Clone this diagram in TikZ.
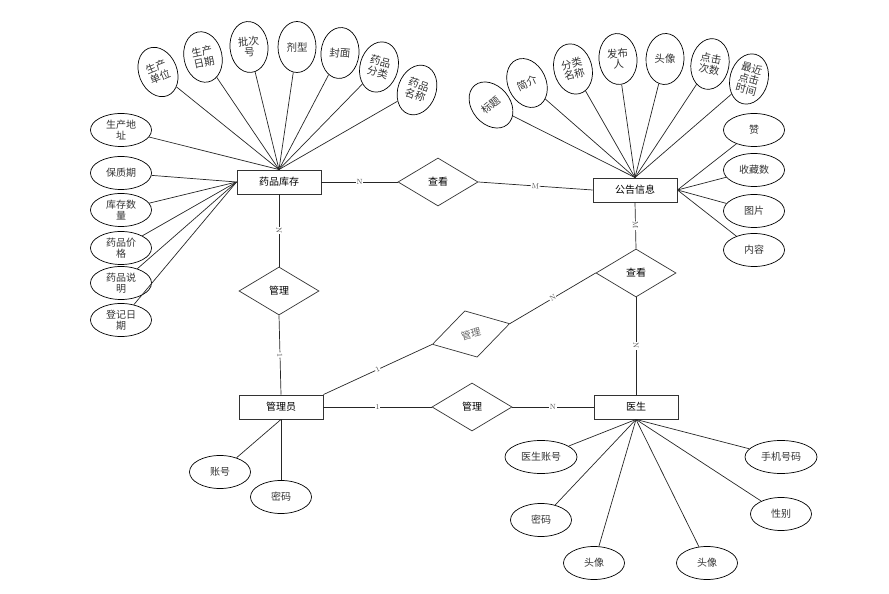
\documentclass[tikz,border=0pt]{standalone}
\usepackage{fontspec}
\newfontfamily\cjk{Noto Sans CJK SC}
\usetikzlibrary{shapes.geometric}

\begin{document}
\begin{tikzpicture}[x=1pt, y=1pt, font=\cjk\fontsize{10}{11}\selectfont,
  entity/.style={rectangle, draw=black!80, line width=0.9pt, minimum width=84pt, minimum height=24pt},
  relation/.style={diamond, draw=black!80, line width=0.7pt, aspect=1.7, minimum width=80pt, minimum height=48pt, inner sep=0pt},
  attr/.style={ellipse, draw, line width=0.7pt, minimum width=61pt, minimum height=33pt, inner sep=0pt, align=center, text=black!80},
  tall/.style={attr, minimum width=38pt, minimum height=51pt, font=\cjk\fontsize{10.5}{11}\selectfont},
  link/.style={draw=black!85, line width=0.7pt},
  card/.style={fill=white, inner sep=0.6pt, font=\rmfamily\fontsize{7.5}{7.5}\selectfont, text=black!70}]
  \useasboundingbox (0,0) rectangle (889,594);

  % entities and relations
  \node[entity] (stock) at (279,412) {药品库存};
  \node[entity] (notice) at (635,404) {公告信息};
  \node[entity] (admin) at (281,187) {管理员};
  \node[entity] (doctor) at (636,187) {医生};
  \node[relation] (view1) at (438,412) {查看};
  \node[relation] (manage1) at (279,303) {管理};
  \node[relation] (view2) at (636,321) {查看};
  \node[relation, rotate=15, text=black!60] (manage2) at (471,260) {管理};
  \node[relation] (manage3) at (472,187) {管理};

  \draw[link] (stock) -- node[card] {N} (view1);
  \draw[link] (view1.east) -- node[card, sloped] {M} (notice.west);
  \draw[link] (stock) -- node[card, sloped] {N} (manage1);
  \draw[link] (manage1.south) -- node[card, sloped] {1} (admin.north);
  \draw[link] (admin.north east) -- node[card, sloped] {1} (manage2.west);
  \draw[link] (manage2.east) -- node[card, sloped] {N} (view2.west);
  \draw[link] (notice.south) -- node[card, sloped] {M} (view2.north);
  \draw[link] (view2) -- node[card, sloped] {N} (doctor);
  \draw[link] (admin) -- node[card] {1} (manage3);
  \draw[link] (manage3) -- node[card] {N} (doctor);

  % 药品库存
  \node[tall, rotate=22] (maker) at (158,522) {生产\\单位};
  \node[tall, rotate=12] (proddate) at (203,537) {生产\\日期};
  \node[tall, rotate=5] (batch) at (249,547) {批次\\号};
  \node[tall] (form) at (297,547) {剂型};
  \node[tall, rotate=-5] (cover) at (340,541) {封面};
  \node[tall, rotate=-15] (category) at (379,527) {药品\\分类};
  \node[tall, rotate=-20] (drugname) at (417,504) {药品\\名称};
  \node[attr] (address) at (121,464) {生产地\\址};
  \node[attr] (shelf) at (121,421) {保质期};
  \node[attr] (quantity) at (121,384) {库存数\\量};
  \node[attr] (price) at (121,346) {药品价\\格};
  \node[attr] (desc) at (121,311) {药品说\\明};
  \node[attr] (regdate) at (121,274) {登记日\\期};
  \foreach \a in {maker, proddate, batch, form, cover, category, drugname, address}
    \draw[link] (\a) -- (stock.north);
  \foreach \a in {shelf, quantity, price, desc, regdate}
    \draw[link] (\a) -- (stock.west);

  % 公告信息
  \node[tall, rotate=40] (title) at (491,489) {标题};
  \node[tall, rotate=25] (intro) at (527,511) {简介};
  \node[tall, rotate=15] (catname) at (573,525) {分类\\名称};
  \node[tall, rotate=5] (publisher) at (618,535) {发布\\人};
  \node[tall, rotate=-3] (avatar) at (665,535) {头像};
  \node[tall, rotate=-10] (clicks) at (710,530) {点击\\次数};
  \node[tall, rotate=-15] (lastclick) at (749,515) {最近\\点击\\时间};
  \node[attr] (likes) at (754,464) {赞};
  \node[attr] (favs) at (754,424) {收藏数};
  \node[attr] (picture) at (754,383) {图片};
  \node[attr] (content) at (754,344) {内容};
  \foreach \a in {title, intro, catname, publisher, avatar, clicks, lastclick}
    \draw[link] (\a) -- (notice.north);
  \foreach \a in {likes, favs, picture, content}
    \draw[link] (\a) -- (notice.east);

  % 管理员
  \node[attr] (account) at (220,122) {账号};
  \node[attr] (pwd) at (281,97) {密码};
  \foreach \a in {account, pwd}
    \draw[link] (\a) -- (admin.south);

  % 医生
  \node[attr, minimum width=72pt] (docacc) at (541,137) {医生账号};
  \node[attr] (docpwd) at (541,74) {密码};
  \node[attr] (docava1) at (594,31) {头像};
  \node[attr] (docava2) at (707,31) {头像};
  \node[attr, minimum width=72pt] (phone) at (781,137) {手机号码};
  \node[attr] (gender) at (781,80) {性别};
  \foreach \a in {docacc, docpwd, docava1, docava2, phone, gender}
    \draw[link] (\a) -- (doctor.south);
\end{tikzpicture}
\end{document}
